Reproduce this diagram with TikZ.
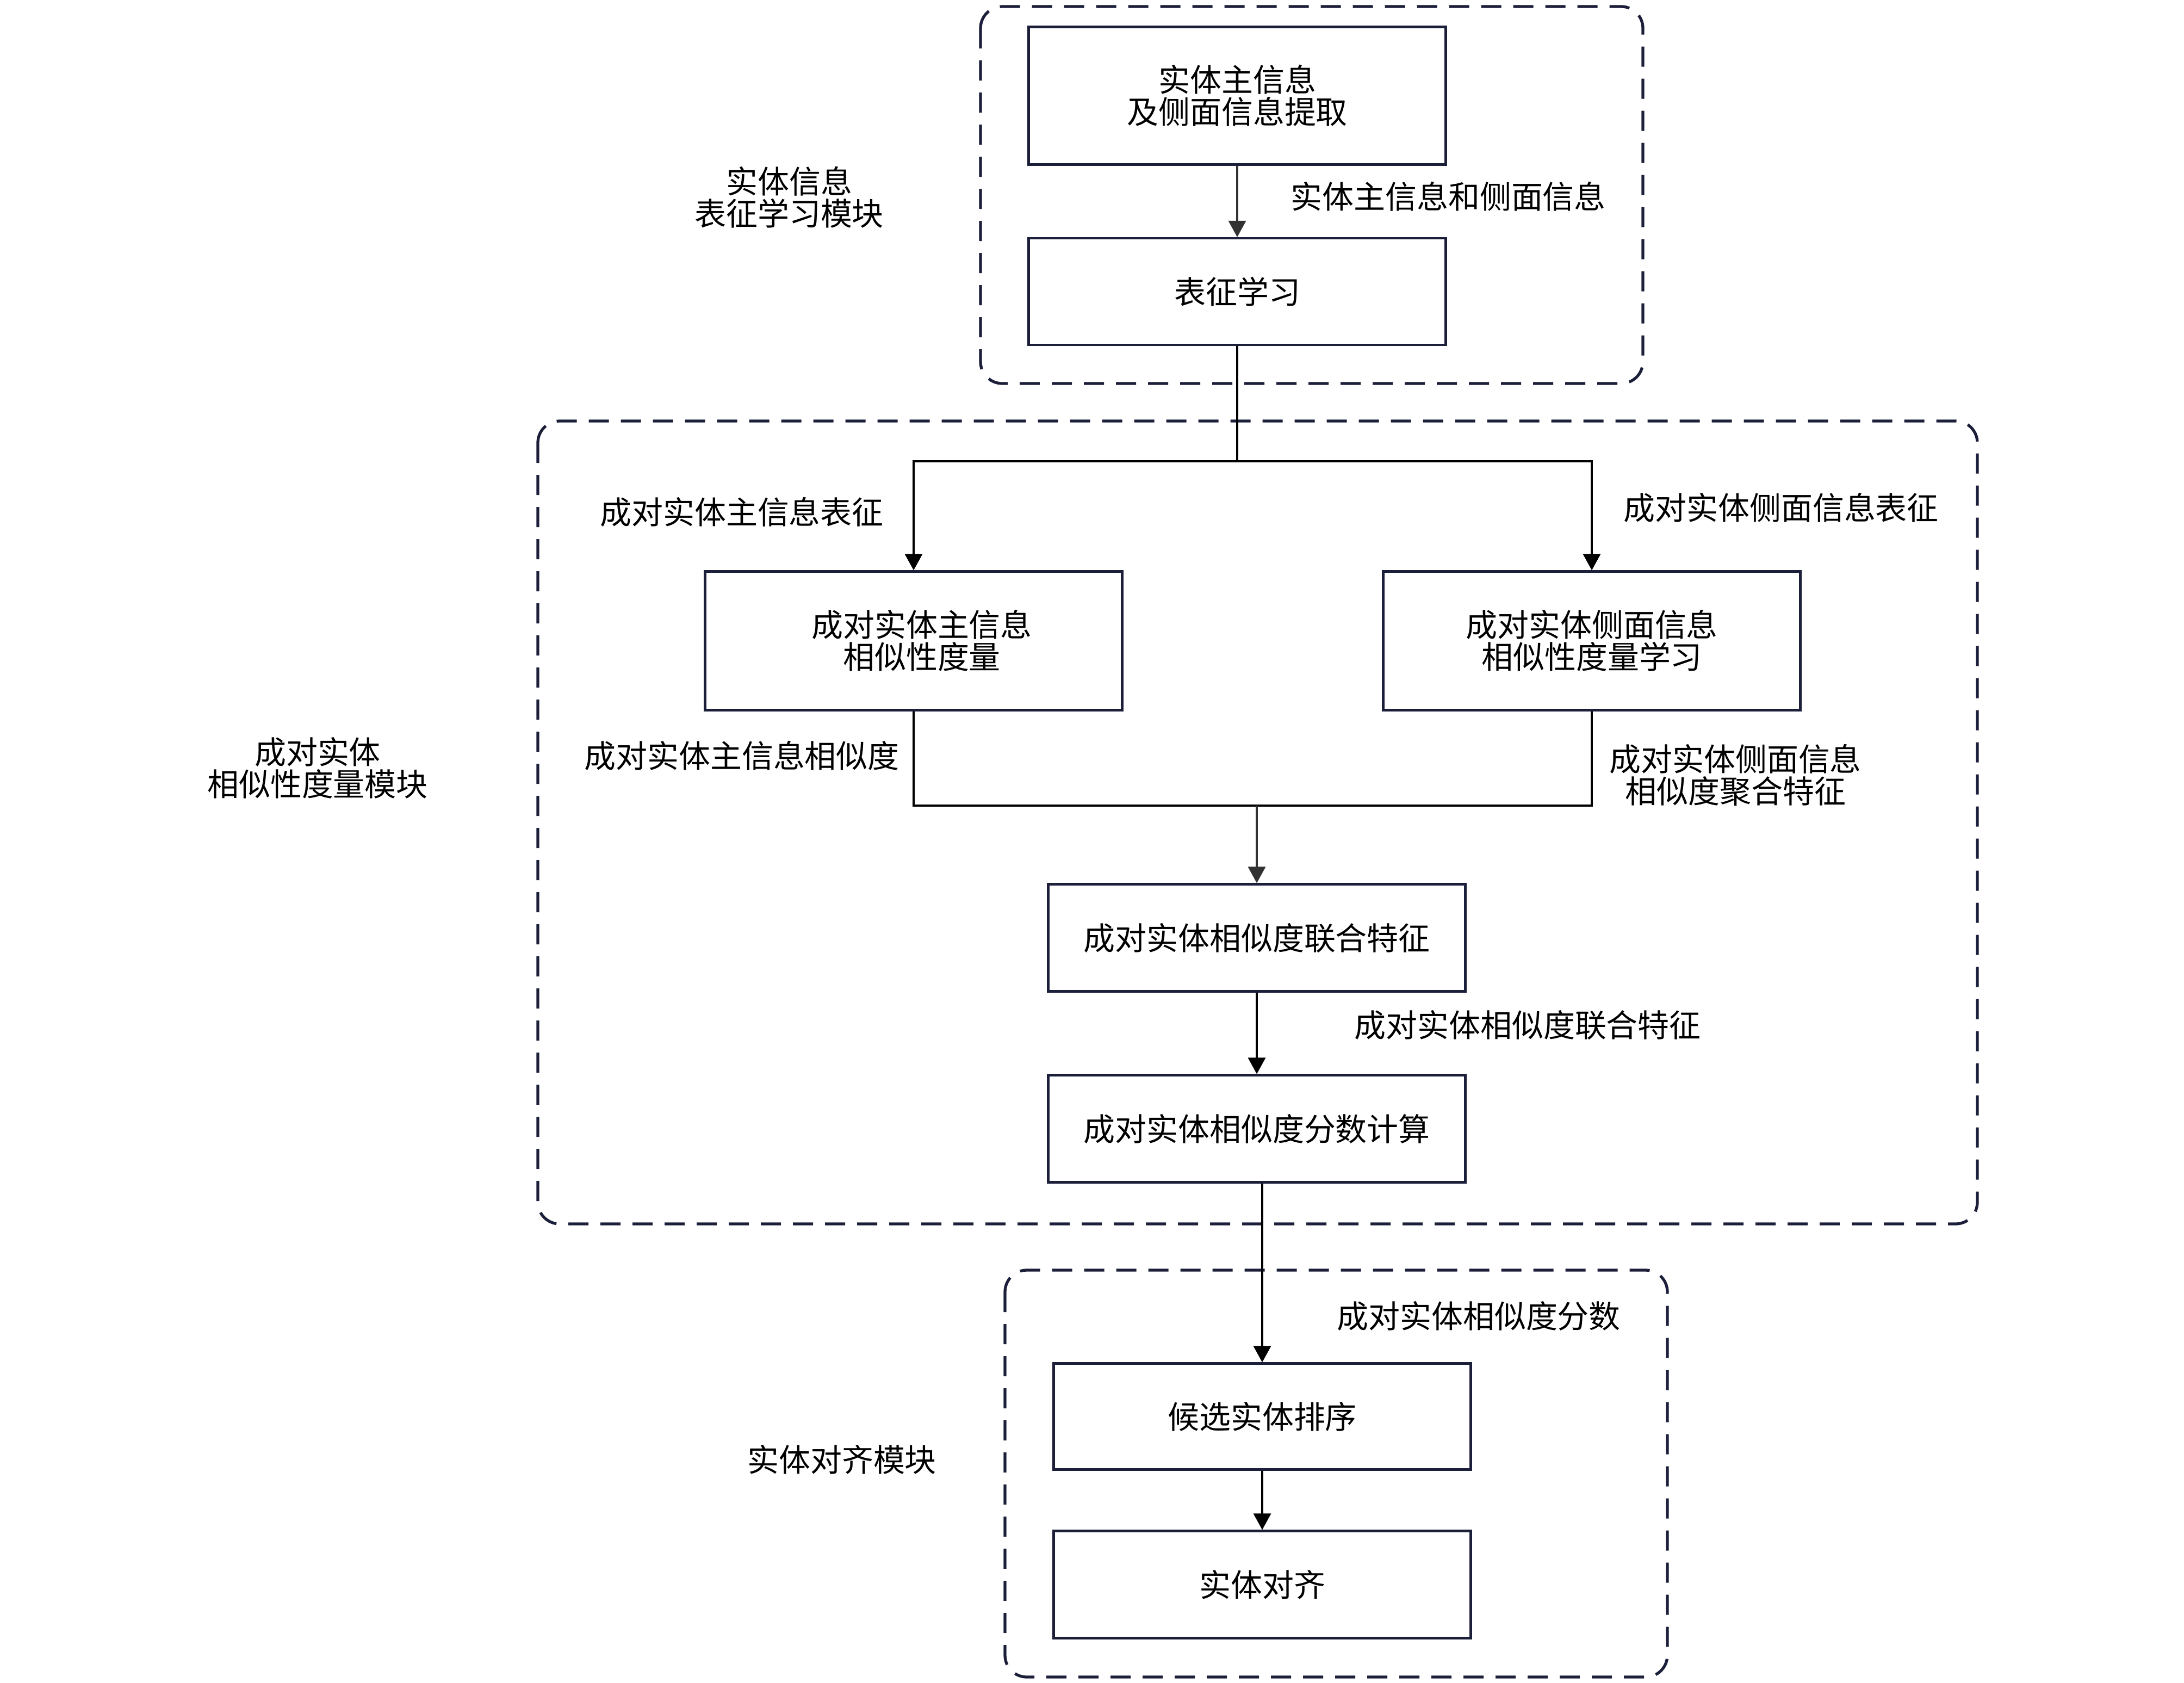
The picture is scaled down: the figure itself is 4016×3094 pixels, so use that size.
\documentclass[tikz,border=0pt]{standalone}
\usepackage{fontspec}
\setmainfont{Noto Sans CJK SC}
\usetikzlibrary{arrows.meta}
\definecolor{navy}{RGB}{28,31,58}
\definecolor{darkgr}{RGB}{50,50,50}
\begin{document}
\begin{tikzpicture}[x=0.1mm,y=-0.1mm,
  every node/.style={font=\fontsize{16.5pt}{16.8pt}\selectfont, inner sep=0pt},
  box/.style={draw=navy, line width=1.2pt, minimum width=76.7mm, align=center},
  module/.style={draw=navy, line width=1.5pt, dash pattern=on 3.7mm off 2.2mm, rounded corners=4mm},
  conn/.style={line width=0.9pt, draw=black},
  arr/.style={conn, -{Triangle[length=3mm,width=3.2mm]}},
  lab/.style={align=center}]
\fill[white] (0,0) rectangle (4016,3094);
\useasboundingbox (0,0) rectangle (4016,3094);

% module frames
\draw[module] (1803,12) rectangle (3021,705);
\draw[module] (989,774) rectangle (3636,2250);
\draw[module] (1848,2335) rectangle (3066,3083);

% boxes
\node[box, minimum height=25.3mm] (b1) at (2275,176) {实体主信息\\及侧面信息提取};
\node[box, minimum height=19.6mm] (b2) at (2275,536) {表征学习};
\node[box, minimum height=25.5mm] (b3) at (1680,1178) {\hspace*{3mm}成对实体主信息\\\hspace*{3mm}相似性度量};
\node[box, minimum height=25.5mm] (b4) at (2927,1178) {成对实体侧面信息\\相似性度量学习};
\node[box, minimum height=19.7mm] (b5) at (2311,1724) {成对实体相似度联合特征};
\node[box, minimum height=19.7mm] (b6) at (2311,2075) {成对实体相似度分数计算};
\node[box, minimum height=19.5mm] (b7) at (2321,2604) {候选实体排序};
\node[box, minimum height=19.7mm] (b8) at (2321,2913) {实体对齐};

% connectors
\draw[arr, draw=darkgr] (b1) -- (b2);
\coordinate (split) at (2275,848);
\draw[conn] (b2.south) -- (split);
\draw[arr] (split) -| (b3.north);
\draw[arr] (split) -| (b4.north);
\coordinate (merge) at (2311,1481);
\draw[conn] (b3.south) |- (merge);
\draw[conn] (b4.south) |- (merge);
\draw[arr, draw=darkgr] (merge) -- (b5.north);
\draw[arr] (b5) -- (b6);
\draw[arr] (b6.south -| b7.north) -- (b7.north);
\draw[arr] (b7) -- (b8);

% labels
\node[lab] (l1) at (2663,361) {实体主信息和侧面信息};
\node[lab] (m1) at (1451,363) {实体信息\\表征学习模块};
\node[lab] (l2) at (1364,941) {成对实体主信息表征};
\node[lab] (l3) at (3275,933) {成对实体侧面信息表征};
\node[lab] (l4) at (1364,1389) {成对实体主信息相似度};
\node[lab] (l5) at (3191,1425) {成对实体侧面信息\\相似度聚合特征};
\node[lab] (m2) at (584,1412) {成对实体\\相似性度量模块};
\node[lab] (l6) at (2809,1884) {成对实体相似度联合特征};
\node[lab] (l7) at (2719,2419) {成对实体相似度分数};
\node[lab] (m3) at (1548,2683) {实体对齐模块};
\end{tikzpicture}
\end{document}
